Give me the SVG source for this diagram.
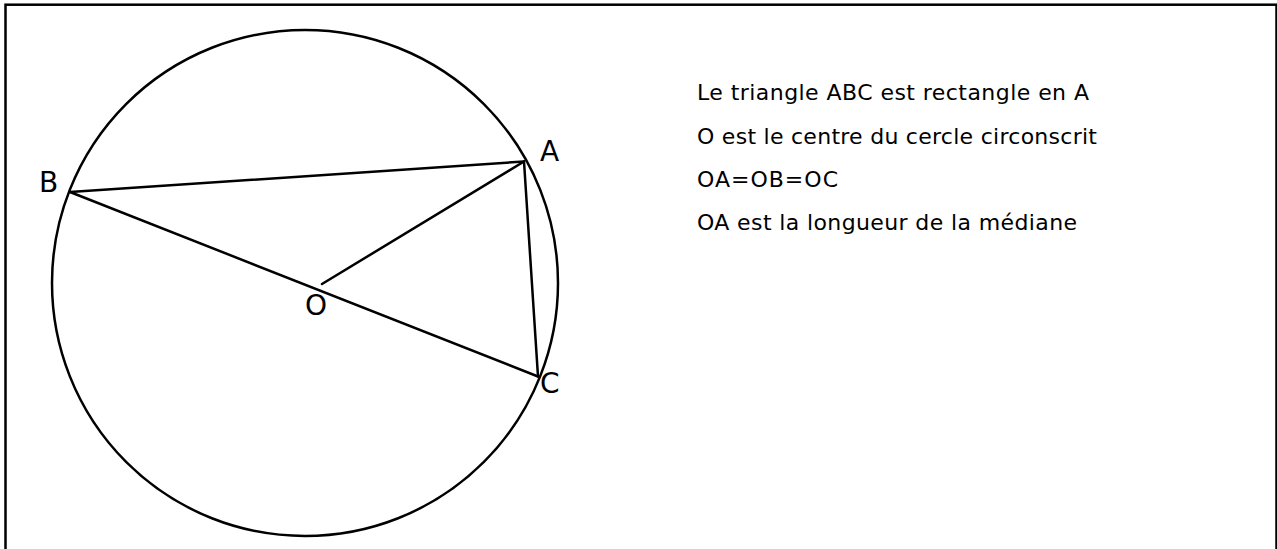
<svg xmlns="http://www.w3.org/2000/svg" width="1277" height="549" viewBox="0 0 1277 549">
<style>
.ln{stroke:#000;stroke-width:2.5;fill:none;stroke-linecap:round}
.lbl{font-family:"DejaVu Sans",sans-serif;font-size:28px;fill:#000}
.txt{font-family:"DejaVu Sans",sans-serif;font-size:22px;fill:#000}
</style>
<rect x="5.5" y="4.7" width="1271" height="570" fill="#fff" stroke="#000" stroke-width="2.5"/>
<g id="circle"><circle class="ln" cx="305" cy="283" r="253"/></g>
<g id="connectors">
<line class="ln" x1="70" y1="192" x2="524" y2="161.5"/>
<line class="ln" x1="70" y1="192" x2="538" y2="376.5"/>
<line class="ln" x1="524" y1="161.5" x2="538" y2="376.5"/>
<line class="ln" x1="322" y1="284" x2="524" y2="161.5"/>
</g>
<g id="A"><text class="lbl" x="540" y="161">A</text></g>
<g id="B"><text class="lbl" x="39" y="192">B</text></g>
<g id="O"><text class="lbl" x="305" y="315">O</text></g>
<g id="C"><text class="lbl" x="540" y="393">C</text></g>
<g id="notes">
<text class="txt" x="697" y="100" textLength="392" lengthAdjust="spacing">Le triangle ABC est rectangle en A</text>
<text class="txt" x="697" y="143.5" textLength="400" lengthAdjust="spacing">O est le centre du cercle circonscrit</text>
<text class="txt" x="697" y="187" textLength="141" lengthAdjust="spacing">OA=OB=OC</text>
<text class="txt" x="697" y="230" textLength="380" lengthAdjust="spacing">OA est la longueur de la médiane</text>
</g>
</svg>
